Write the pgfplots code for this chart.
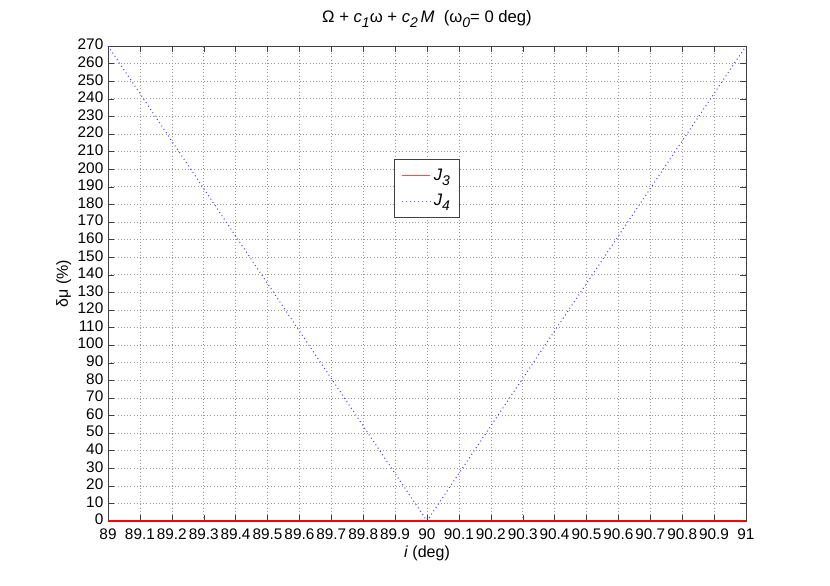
\documentclass[border=0pt]{standalone}
\usepackage{fontspec}
\setmainfont{Liberation Sans}
\usepackage{pgfplots}
\pgfplotsset{compat=1.18}
% MATLAB-like subscript: nearly full size, lowered
\newcommand{\msub}[1]{\raisebox{-0.55ex}{\fontsize{10.5}{11}\selectfont\textit{#1}}}
\begin{document}
\begin{tikzpicture}
  \begin{axis}[
      scale only axis,
      width=478.5pt, height=356.25pt,
      xmin=89, xmax=91, ymin=0, ymax=270,
      xtick={89,89.1,89.2,89.3,89.4,89.5,89.6,89.7,89.8,89.9,90,90.1,90.2,90.3,90.4,90.5,90.6,90.7,90.8,90.9,91},
      xticklabels={89,89.1,89.2,89.3,89.4,89.5,89.6,89.7,89.8,89.9,90,90.1,90.2,90.3,90.4,90.5,90.6,90.7,90.8,90.9,91},
      ytick={0,10,...,270},
      /pgf/number format/assume math mode=true,
      tick label style={font=\fontsize{11.5}{13}\selectfont},
      xticklabel style={yshift=-2pt},
      yticklabel style={yshift=1pt},
      label style={font=\fontsize{12}{13}\selectfont},
      tick align=inside, tick pos=both,
      major tick length=4.5pt,
      axis line style={black!75},
      major tick style={black!75},
      grid=major, grid style={dotted, black!40},
      xlabel={\textit{i} (deg)},
      ylabel={δμ (\%)},
      xlabel style={yshift=2pt},
      ylabel style={yshift=-2pt},
      title={Ω + \textit{c}\msub{1}ω + \textit{c}\msub{2}\,\textit{M}\ \ (ω\msub{0}= 0 deg)},
      title style={font=\fontsize{12.5}{14}\selectfont, yshift=4pt},
      legend style={at={(0.5,0.70)}, anchor=center,
                    font=\fontsize{12.5}{14}\selectfont,
                    draw=black!75, fill=white, cells={anchor=west},
                    row sep=5pt, inner xsep=5pt, inner ysep=5pt},
      legend cell align=left,
      clip=false,
    ]
    \addplot[red, line width=1.4pt,
             legend image code/.code={\draw[red!70, line width=1pt] (0cm,0cm) -- (0.75cm,0cm);}]
      coordinates {(89,0) (91,0)};
    \addlegendentry{\textit{J}\msub{3}\hspace{3pt}}
    \addplot[blue!75, line width=0.8pt, dash pattern=on 0.7pt off 2.3pt,
             legend image code/.code={\draw[blue!60, line width=1pt, dash pattern=on 0.7pt off 2.3pt] (0cm,0cm) -- (0.75cm,0cm);}]
      coordinates {(89,270) (90,0) (91,270)};
    \addlegendentry{\textit{J}\msub{4}\hspace{3pt}}
    \path (rel axis cs:-0.1693,-0.1368) rectangle (rel axis cs:1.1317,1.0968);
  \end{axis}
\end{tikzpicture}
\end{document}
